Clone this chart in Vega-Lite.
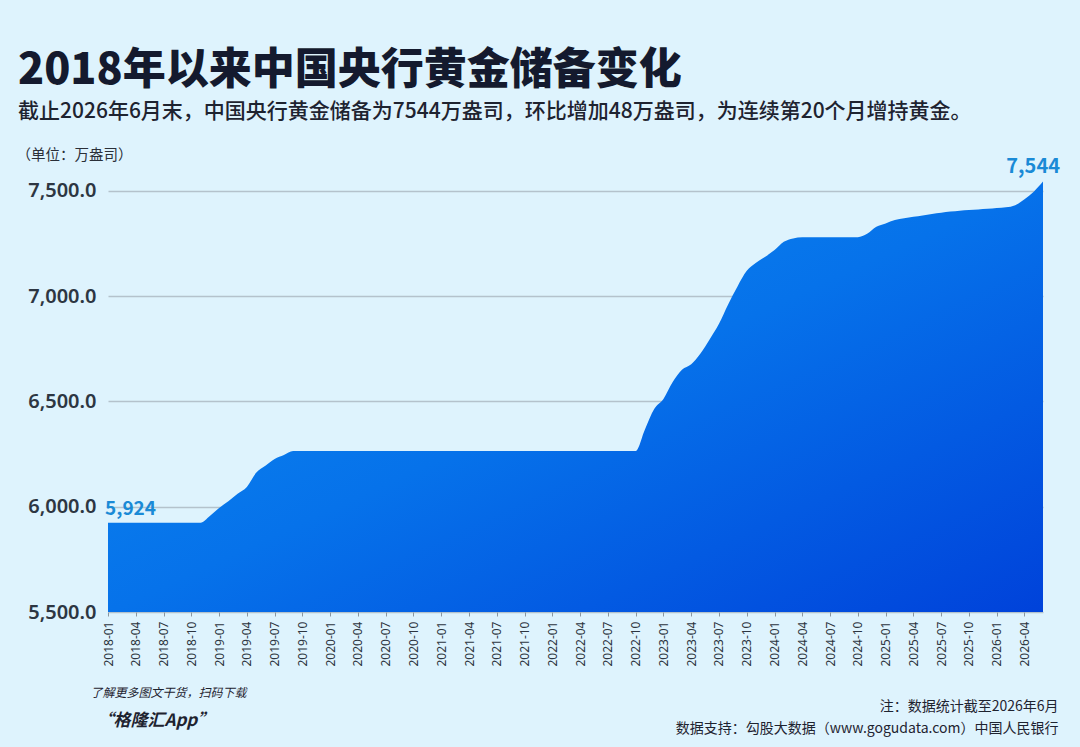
{
  "$schema": "https://vega.github.io/schema/vega-lite/v6.json",
  "width": 935,
  "height": 438,
  "autosize": {"type": "none"},
  "padding": {"left": 108, "top": 174, "right": 37, "bottom": 135},
  "background": "#def3fd",
  "config": {
    "view": {"stroke": null},
    "font": "Noto Sans CJK SC"
  },
  "title": {
    "text": "2018年以来中国央行黄金储备变化",
    "subtitle": "截止2026年6月末，中国央行黄金储备为7544万盎司，环比增加48万盎司，为连续第20个月增持黄金。",
    "anchor": "start",
    "frame": "group",
    "dx": -90,
    "offset": 25,
    "font": "Noto Sans CJK SC",
    "fontSize": 43,
    "fontWeight": 900,
    "color": "#141a2e",
    "subtitleFont": "Noto Sans CJK SC",
    "subtitleFontSize": 21,
    "subtitleFontWeight": 500,
    "subtitleColor": "#1e2330",
    "subtitlePadding": 8
  },
  "data": {
    "values": [
      {"month": "2018-01", "value": 5924}, {"month": "2018-02", "value": 5924}, {"month": "2018-03", "value": 5924},
      {"month": "2018-04", "value": 5924}, {"month": "2018-05", "value": 5924}, {"month": "2018-06", "value": 5924},
      {"month": "2018-07", "value": 5924}, {"month": "2018-08", "value": 5924}, {"month": "2018-09", "value": 5924},
      {"month": "2018-10", "value": 5924}, {"month": "2018-11", "value": 5924}, {"month": "2018-12", "value": 5956},
      {"month": "2019-01", "value": 5994}, {"month": "2019-02", "value": 6026}, {"month": "2019-03", "value": 6062},
      {"month": "2019-04", "value": 6094}, {"month": "2019-05", "value": 6161}, {"month": "2019-06", "value": 6194},
      {"month": "2019-07", "value": 6226}, {"month": "2019-08", "value": 6245}, {"month": "2019-09", "value": 6264},
      {"month": "2019-10", "value": 6264}, {"month": "2019-11", "value": 6264}, {"month": "2019-12", "value": 6264},
      {"month": "2020-01", "value": 6264}, {"month": "2020-02", "value": 6264}, {"month": "2020-03", "value": 6264},
      {"month": "2020-04", "value": 6264}, {"month": "2020-05", "value": 6264}, {"month": "2020-06", "value": 6264},
      {"month": "2020-07", "value": 6264}, {"month": "2020-08", "value": 6264}, {"month": "2020-09", "value": 6264},
      {"month": "2020-10", "value": 6264}, {"month": "2020-11", "value": 6264}, {"month": "2020-12", "value": 6264},
      {"month": "2021-01", "value": 6264}, {"month": "2021-02", "value": 6264}, {"month": "2021-03", "value": 6264},
      {"month": "2021-04", "value": 6264}, {"month": "2021-05", "value": 6264}, {"month": "2021-06", "value": 6264},
      {"month": "2021-07", "value": 6264}, {"month": "2021-08", "value": 6264}, {"month": "2021-09", "value": 6264},
      {"month": "2021-10", "value": 6264}, {"month": "2021-11", "value": 6264}, {"month": "2021-12", "value": 6264},
      {"month": "2022-01", "value": 6264}, {"month": "2022-02", "value": 6264}, {"month": "2022-03", "value": 6264},
      {"month": "2022-04", "value": 6264}, {"month": "2022-05", "value": 6264}, {"month": "2022-06", "value": 6264},
      {"month": "2022-07", "value": 6264}, {"month": "2022-08", "value": 6264}, {"month": "2022-09", "value": 6264},
      {"month": "2022-10", "value": 6264}, {"month": "2022-11", "value": 6367}, {"month": "2022-12", "value": 6464},
      {"month": "2023-01", "value": 6512}, {"month": "2023-02", "value": 6592}, {"month": "2023-03", "value": 6650},
      {"month": "2023-04", "value": 6676}, {"month": "2023-05", "value": 6727}, {"month": "2023-06", "value": 6795},
      {"month": "2023-07", "value": 6869}, {"month": "2023-08", "value": 6962}, {"month": "2023-09", "value": 7046},
      {"month": "2023-10", "value": 7120}, {"month": "2023-11", "value": 7158}, {"month": "2023-12", "value": 7187},
      {"month": "2024-01", "value": 7219}, {"month": "2024-02", "value": 7258}, {"month": "2024-03", "value": 7274},
      {"month": "2024-04", "value": 7280}, {"month": "2024-05", "value": 7280}, {"month": "2024-06", "value": 7280},
      {"month": "2024-07", "value": 7280}, {"month": "2024-08", "value": 7280}, {"month": "2024-09", "value": 7280},
      {"month": "2024-10", "value": 7280}, {"month": "2024-11", "value": 7296}, {"month": "2024-12", "value": 7329},
      {"month": "2025-01", "value": 7345}, {"month": "2025-02", "value": 7361}, {"month": "2025-03", "value": 7370},
      {"month": "2025-04", "value": 7377}, {"month": "2025-05", "value": 7383}, {"month": "2025-06", "value": 7390},
      {"month": "2025-07", "value": 7396}, {"month": "2025-08", "value": 7402}, {"month": "2025-09", "value": 7406},
      {"month": "2025-10", "value": 7409}, {"month": "2025-11", "value": 7412}, {"month": "2025-12", "value": 7415},
      {"month": "2026-01", "value": 7419}, {"month": "2026-02", "value": 7422}, {"month": "2026-03", "value": 7432},
      {"month": "2026-04", "value": 7460}, {"month": "2026-05", "value": 7496}, {"month": "2026-06", "value": 7544}
    ]
  },
  "resolve": {"axis": {"x": "independent", "y": "independent"}},
  "layer": [
    {
      "mark": {
        "type": "area",
        "interpolate": "monotone",
        "color": {
          "gradient": "linear",
          "x1": 0, "y1": 0, "x2": 1, "y2": 1,
          "stops": [
            {"offset": 0, "color": "#0f8ff0"},
            {"offset": 0.5, "color": "#0672ea"},
            {"offset": 1, "color": "#0042da"}
          ]
        }
      },
      "encoding": {
        "x": {
          "field": "month",
          "type": "ordinal",
          "sort": "ascending",
          "scale": {"type": "point", "padding": 0},
          "axis": {
            "orient": "bottom",
            "values": ["2018-01","2018-04","2018-07","2018-10","2019-01","2019-04","2019-07","2019-10","2020-01","2020-04","2020-07","2020-10","2021-01","2021-04","2021-07","2021-10","2022-01","2022-04","2022-07","2022-10","2023-01","2023-04","2023-07","2023-10","2024-01","2024-04","2024-07","2024-10","2025-01","2025-04","2025-07","2025-10","2026-01","2026-04"],
            "labelAngle": -90,
            "labelAlign": "right",
            "labelBaseline": "middle",
            "labelFont": "Noto Sans",
            "labelFontSize": 12,
            "labelColor": "#2d3540",
            "labelPadding": 5,
            "ticks": true,
            "tickColor": "#8a96a0",
            "tickSize": 4,
            "domain": false,
            "grid": false,
            "title": ["注：数据统计截至2026年6月", "数据支持：勾股大数据（www.gogudata.com）中国人民银行"],
            "titleFont": "Noto Sans CJK SC",
            "titleFontSize": 14,
            "titleFontWeight": 400,
            "titleColor": "#1e2330",
            "titleAlign": "right",
            "titleAnchor": "end",
            "titleBaseline": "top",
            "titleLineHeight": 22,
            "titleX": 950,
            "titleY": 87
          }
        },
        "y": {
          "field": "value",
          "type": "quantitative",
          "scale": {"domain": [5500, 7580], "zero": false, "nice": false},
          "axis": {
            "orient": "left",
            "values": [5500, 6000, 6500, 7000, 7500],
            "format": ",.1f",
            "labelFont": "Noto Sans",
            "labelFontSize": 20,
            "labelFontWeight": 600,
            "labelColor": "#2d3642",
            "labelPadding": 12,
            "ticks": false,
            "domain": false,
            "grid": true,
            "gridColor": "#b4c2cc",
            "gridWidth": 1.5,
            "title": "（单位：万盎司）",
            "titleFont": "Noto Sans CJK SC",
            "titleFontSize": 14.5,
            "titleFontWeight": 400,
            "titleColor": "#2a2f38",
            "titleAngle": 0,
            "titleAlign": "left",
            "titleBaseline": "middle",
            "titleX": -92,
            "titleY": -19
          }
        },
        "y2": {"datum": 5500}
      }
    },
    {
      "transform": [{"filter": "datum.month == '2018-01'"}],
      "mark": {
        "type": "text",
        "align": "left",
        "baseline": "middle",
        "dx": -3,
        "dy": -14,
        "font": "Noto Sans CJK SC",
        "fontSize": 19,
        "fontWeight": 700,
        "color": "#1a8ad6"
      },
      "encoding": {
        "x": {
          "field": "month",
          "type": "ordinal",
          "axis": {
            "orient": "top",
            "labels": false,
            "ticks": false,
            "domain": false,
            "grid": false,
            "title": "“格隆汇App”",
            "titleFont": "Noto Sans CJK SC",
            "titleFontSize": 17,
            "titleFontWeight": 700,
            "titleFontStyle": "italic",
            "titleColor": "#1e2330",
            "titleAlign": "left",
            "titleAnchor": "start",
            "titleBaseline": "middle",
            "titleX": -12,
            "titleY": 546
          }
        },
        "y": {
          "field": "value",
          "type": "quantitative",
          "axis": {
            "orient": "right",
            "labels": false,
            "ticks": false,
            "domain": false,
            "grid": false,
            "title": "了解更多图文干货，扫码下载",
            "titleFont": "Noto Sans CJK SC",
            "titleFontSize": 12,
            "titleFontWeight": 400,
            "titleFontStyle": "italic",
            "titleColor": "#1e2330",
            "titleAngle": 0,
            "titleAlign": "left",
            "titleBaseline": "middle",
            "titleX": -953,
            "titleY": 518
          }
        },
        "text": {"field": "value", "type": "quantitative", "format": ","}
      }
    },
    {
      "transform": [{"filter": "datum.month == '2026-06'"}],
      "mark": {
        "type": "text",
        "align": "right",
        "baseline": "middle",
        "dx": 17,
        "dy": -15,
        "font": "Noto Sans CJK SC",
        "fontSize": 20,
        "fontWeight": 700,
        "color": "#1a8ad6"
      },
      "encoding": {
        "x": {"field": "month", "type": "ordinal", "axis": null},
        "y": {"field": "value", "type": "quantitative", "axis": null},
        "text": {"field": "value", "type": "quantitative", "format": ","}
      }
    }
  ]
}
